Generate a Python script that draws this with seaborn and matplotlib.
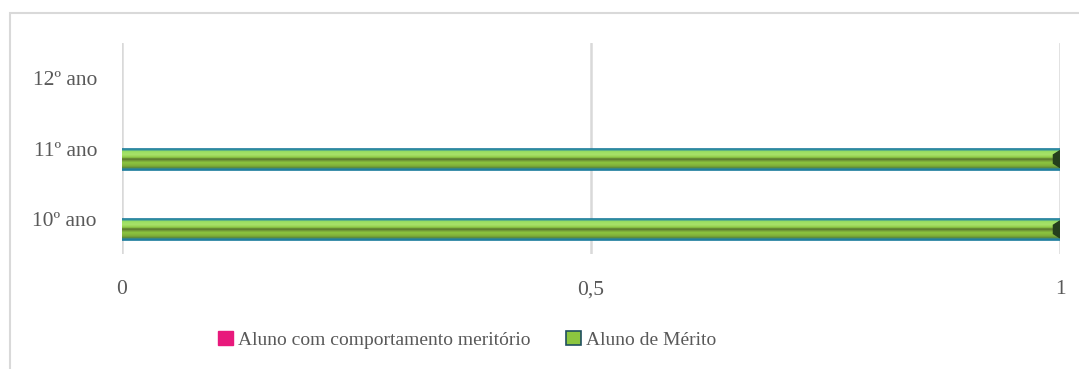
import numpy as np
import pandas as pd
import matplotlib
matplotlib.use("Agg")
import matplotlib.pyplot as plt
from matplotlib.patches import Rectangle, Patch
from matplotlib.colors import LinearSegmentedColormap
import seaborn as sns

# Data
anos = ["12º ano", "11º ano", "10º ano"]
series = ["Aluno com comportamento meritório", "Aluno de Mérito"]
comportamento = [0, 0, 0]
merito = [0, 1, 1]
x_ticks = [0, 0.5, 1]
x_labels = ["0", "0,5", "1"]

df = pd.DataFrame({
    "ano": anos * 2,
    "serie": [series[0]] * 3 + [series[1]] * 3,
    "valor": comportamento + merito,
})

sns.set_theme(style="white")
plt.rcParams["font.family"] = ["Liberation Serif", "DejaVu Serif"]

text_color = "#595959"
grid_color = "#d9d9d9"
pink = "#e8197c"
green = "#8cc63f"
edge_blue = "#1b7b9c"

fig = plt.figure(figsize=(10.79, 3.69), dpi=100)
ax = fig.add_axes([122 / 1079, 1 - 254 / 369, 938 / 1079, 211 / 369])

sns.barplot(data=df, y="ano", x="valor", hue="serie", order=anos,
            hue_order=series, palette=[pink, green], width=0.6,
            orient="h", dodge=True, ax=ax, legend=False, saturation=1)

# Bevelled green fill for the "Aluno de Mérito" bars
bevel = LinearSegmentedColormap.from_list("bevel", [
    (0.00, "#1b7b9c"), (0.08, "#2f8fa0"), (0.14, "#9be060"),
    (0.30, "#a8e26a"), (0.42, "#8fcc45"), (0.50, "#556f2c"),
    (0.56, "#6f9437"), (0.66, "#8cc63f"), (0.82, "#7fae3a"),
    (0.90, "#5f8a32"), (0.95, "#2a86a3"), (1.00, "#1b7b9c"),
])
grad = np.linspace(0, 1, 64).reshape(-1, 1)
for p in list(ax.patches):
    if p.get_width() <= 0:
        p.set_linewidth(0)
        continue
    p.set_edgecolor(edge_blue)
    p.set_linewidth(1.2)
    x0, y0 = p.get_x(), p.get_y()
    w, h = p.get_width(), p.get_height()
    im = ax.imshow(grad, cmap=bevel, aspect="auto", origin="upper",
                   extent=(x0, x0 + w, y0 + h, y0), zorder=p.get_zorder() + 0.1,
                   interpolation="bilinear")
    im.set_clip_path(p)
    # dark bevel at the right end of the bar
    ax.add_patch(plt.Polygon([(x0 + w, y0 + h * 0.1), (x0 + w, y0 + h * 0.9),
                              (x0 + w - 0.007, y0 + h * 0.7),
                              (x0 + w - 0.007, y0 + h * 0.3)],
                             closed=True, color="#243f1c", zorder=p.get_zorder() + 0.2))

ax.set_xlim(0, 1)
ax.set_ylim(2.5, -0.5)
ax.set_xticks(x_ticks)
ax.set_xticklabels(x_labels)
ax.set_xlabel("")
ax.set_ylabel("")
ax.grid(False)
for xv in x_ticks:
    ax.axvline(xv, color=grid_color, linewidth=1.8, zorder=0)
for s in ax.spines.values():
    s.set_visible(False)
ax.tick_params(axis="both", length=0, labelsize=15.5, colors=text_color)
ax.tick_params(axis="x", pad=19)
ax.tick_params(axis="y", pad=18)

# Chart border
fig.add_artist(Rectangle((10 / 1079, -0.2), 1.2, 1.2 - 13 / 369,
                         transform=fig.transFigure, fill=False,
                         edgecolor=grid_color, linewidth=1.5))

handles = [
    Patch(facecolor=pink, edgecolor=pink),
    Patch(facecolor=green, edgecolor="#1f4f5f", linewidth=1.2),
]
fig.legend(handles, series, loc="center", bbox_to_anchor=(467 / 1079, 1 - 340 / 369),
           ncol=2, frameon=False, fontsize=14, labelcolor=text_color,
           handlelength=0.75, handleheight=0.75, handletextpad=0.25,
           columnspacing=1.85)

fig.savefig("out.png", dpi=100)
